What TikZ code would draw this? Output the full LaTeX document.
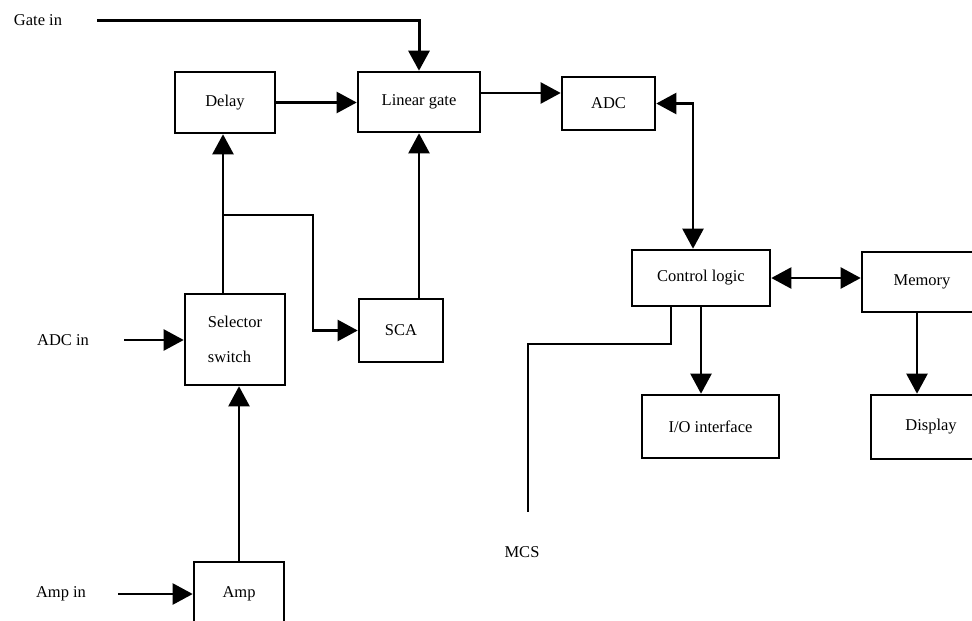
\documentclass[tikz,border=0pt]{standalone}
\usepackage{fontspec}
\setmainfont{Liberation Serif}
\usetikzlibrary{arrows.meta,calc}
\begin{document}
\begin{tikzpicture}[x=1pt,y=-1pt,
  every node/.style={font=\fontsize{16.5}{20}\selectfont},
  blk/.style={draw,line width=2.6pt,rectangle,inner sep=0pt},
  lbl/.style={inner sep=0pt},
  wire/.style={line width=2.3pt},
  arr/.style={wire,-{Triangle[length=20pt,width=21pt]}},
  darr/.style={wire,{Triangle[length=20pt,width=21pt]}-{Triangle[length=20pt,width=21pt]}}]
\useasboundingbox (0,0) rectangle (972,621);
% boxes
\node[blk,minimum width=100,minimum height=61] (delay) at (225,102.5) {Delay};
\node[blk,minimum width=122,minimum height=60] (lingate) at (419,102) {Linear gate};
\node[blk,minimum width=93,minimum height=53] (adc) at (608.5,103.5) {ADC};
\node[blk,minimum width=100,minimum height=91,align=left] (sel) at (235,339.5) {\raisebox{0pt}[0pt][0pt]{}Selector\\[15pt]switch};
\node[blk,minimum width=84,minimum height=63] (sca) at (401,330.5) {SCA};
\node[blk,minimum width=138,minimum height=56] (ctrl) at (701,278) {Control logic};
\node[blk,minimum width=120,minimum height=60] (mem) at (922,282) {Memory\hspace{20pt}};
\node[blk,minimum width=137,minimum height=63] (io) at (710.5,426.5) {I/O interface};
\node[blk,minimum width=120,minimum height=64] (disp) at (931,427) {Display\hspace{22pt}};
\node[blk,minimum width=90,minimum height=64] (amp) at (239,594) {Amp};
% free labels
\node[lbl] (gatein) at (38,20) {Gate in};
\node[lbl] (adcin) at (63,340) {ADC in};
\node[lbl] (ampin) at (61,594) {Amp in};
\node[lbl] (mcs) at (522,552) {MCS};
% coordinates
\coordinate (gatestart) at (97,20);
\coordinate (adcinstart) at (124,340);
\coordinate (ampinstart) at (118,594);
\coordinate (branch) at (223,215);
\coordinate (mcsend) at (528,512);
% connectors
\draw[arr,line width=3pt] (gatestart) -| (lingate.north);
\draw[arr] (delay.east) -- (delay.east -| lingate.west);
\draw[arr] ([yshift=10.5pt]adc.west -| lingate.east) -- ([yshift=10.5pt]adc.west);
\draw[darr] (adc.east) -| ([xshift=-8pt]ctrl.north);
\draw[darr] (ctrl.east) -- (ctrl.east -| mem.west);
\draw[arr] (ctrl.south) -- (ctrl.south |- io.north);
\draw[arr] ([xshift=-5pt]mem.south) -- ([xshift=-5pt]mem.south |- disp.north);
\draw[wire] ([xshift=-30pt]ctrl.south) -- ++(0,37) -| (mcsend);
\draw[arr] ([xshift=-12pt]sel.north) -- ([xshift=-12pt]sel.north |- delay.south);
\draw[arr] (branch) -- ++(90,0) |- (sca.west);
\draw[arr] (lingate.south |- sca.north) -- (lingate.south);
\draw[arr] (amp.north) -- (amp.north |- sel.south);
\draw[arr] (adcinstart) -- (adcinstart -| sel.west);
\draw[arr] (ampinstart) -- (ampinstart -| amp.west);
\end{tikzpicture}
\end{document}
